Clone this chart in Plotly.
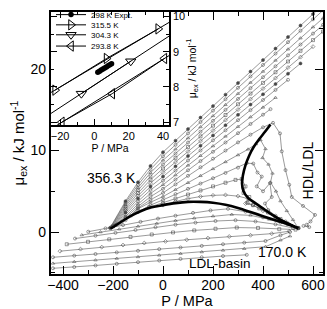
import plotly.graph_objects as go

# ---------------- inset data (P / MPa, mu_ex / kJ mol-1) ----------------
expt298_P = [2, 3, 4, 5, 6, 7, 8, 9, 10]
expt298_mu = [8.42, 8.45, 8.48, 8.51, 8.54, 8.57, 8.60, 8.63, 8.66]

t3155_P = [-22.9, 7.1, 37.2]
t3155_mu = [7.91, 8.81, 9.65]
t3155_fitP = [-40, 60]
t3155_fitmu = [7.42, 10.31]

t3043_P = [-7.6, 21.2]
t3043_mu = [7.81, 8.73]
t3043_fitP = [-40, 60]
t3043_fitmu = [6.78, 9.97]

t2938_P = [-19.0, 10.4, 40.8]
t2938_mu = [7.00, 7.81, 8.81]
t2938_fitP = [-40, 60]
t2938_fitmu = [6.36, 9.39]

# ---------------- main panel: HDL-side isotherms (356.3 K downward) ----------------
hdl0_P = [-212, -150, -100, -50, 0, 50, 100, 150, 200, 250, 300, 350, 400, 450, 500, 550, 600, 640]
hdl0_mu = [0.5, 3.79, 6.11, 8.11, 9.8, 11.21, 12.63, 14.04, 15.45, 16.86, 18.28, 19.69, 21.1, 22.51, 23.93, 25.34, 26.75, 27.88]
hdl1_P = [-210, -150, -100, -50, 0, 50, 100, 150, 200, 250, 300, 350, 400, 450, 500, 550, 600, 640]
hdl1_mu = [0.55, 3.59, 5.79, 7.69, 9.3, 10.7, 12.1, 13.5, 14.9, 16.3, 17.7, 19.1, 20.5, 21.9, 23.3, 24.7, 26.1, 27.2]
hdl2_P = [-207, -150, -100, -50, 0, 50, 100, 150, 200, 250, 300, 350, 400, 450, 500, 550, 600, 640]
hdl2_mu = [0.6, 3.35, 5.45, 7.27, 8.8, 10.16, 11.53, 12.89, 14.25, 15.61, 16.98, 18.34, 19.7, 21.06, 22.43, 23.79, 25.15, 26.24]
hdl3_P = [-204, -150, -100, -50, 0, 50, 100, 150, 200, 250, 300, 350, 400, 450, 500, 550, 600, 640]
hdl3_mu = [0.65, 3.12, 5.13, 6.85, 8.3, 9.64, 10.98, 12.31, 13.65, 14.99, 16.33, 17.66, 19.0, 20.34, 21.68, 23.01, 24.35, 25.42]
hdl4_P = [-200, -150, -100, -50, 0, 50, 100, 150, 200, 250, 300, 350, 400, 450, 500, 550, 600, 640]
hdl4_mu = [0.7, 2.87, 4.78, 6.42, 7.8, 9.11, 10.43, 11.74, 13.05, 14.36, 15.68, 16.99, 18.3, 19.61, 20.93, 22.24, 23.55, 24.6]
hdl5_P = [-196, -150, -100, -50, 0, 50, 100, 150, 200, 250, 300, 350, 400, 450, 500, 550, 600]
hdl5_mu = [0.75, 2.64, 4.45, 6.0, 7.3, 8.59, 9.88, 11.16, 12.45, 13.74, 15.03, 16.31, 17.6, 18.89, 20.18, 21.46, 22.75]
hdl6_P = [-190, -150, -100, -50, 0, 50, 100, 150, 200, 250, 300, 350, 400, 450, 500, 550]
hdl6_mu = [0.85, 2.40, 4.12, 5.58, 6.8, 8.06, 9.33, 10.59, 11.85, 13.11, 14.38, 15.64, 16.9, 18.16, 19.43, 20.69]
hdl7_P = [-183, -150, -100, -50, 0, 50, 100, 150, 200, 250, 300, 350, 400, 450, 500]
hdl7_mu = [0.95, 2.15, 3.77, 5.16, 6.3, 7.54, 8.78, 10.01, 11.25, 12.49, 13.73, 14.96, 16.2, 17.44, 18.68]
hdl8_P = [-175, -150, -100, -50, 0, 50, 100, 150, 200, 250, 300, 350, 400, 450]
hdl8_mu = [1.05, 1.9, 3.43, 4.73, 5.8, 6.99, 8.18, 9.36, 10.55, 11.74, 12.93, 14.11, 15.3, 16.49]
hdl9_P = [-165, -150, -100, -50, 0, 50, 100, 150, 200, 250, 300, 350, 400, 430]
hdl9_mu = [1.25, 1.72, 3.14, 4.33, 5.3, 6.44, 7.58, 8.71, 9.85, 10.99, 12.13, 13.26, 14.4, 15.08]

# isotherms that break up in the HDL/LDL transition region
zig0_P = [-150, -100, -50, 0, 50, 100, 150, 200, 250, 300, 350, 400, 440, 468, 475, 490, 505, 515, 560, 608, 590, 575, 585, 562]
zig0_mu = [1.45, 2.95, 3.95, 4.8, 5.85, 6.9, 7.95, 9.0, 10.0, 11.0, 11.95, 12.85, 13.4, 12.1, 9.9, 7.6, 5.8, 4.3, 3.2, 2.1, 1.3, 0.9, 0.6, 0.75]
zig1_P = [-130, -100, -50, 0, 50, 100, 150, 200, 250, 300, 340, 372, 390, 410, 398, 422, 438, 430, 452, 470, 495, 520, 541]
zig1_mu = [1.95, 2.85, 3.65, 4.35, 5.2, 6.05, 6.9, 7.75, 8.6, 9.45, 10.15, 10.8, 11.3, 10.2, 9.1, 8.3, 7.2, 6.1, 5.0, 3.8, 2.6, 1.5, 0.5]
zig2_P = [-100, -50, 0, 50, 100, 150, 200, 250, 300, 335, 361, 378, 395, 375, 400, 428, 435, 408, 421, 450, 490, 541]
zig2_mu = [2.45, 3.3, 3.95, 4.65, 5.3, 5.95, 6.6, 7.25, 7.9, 8.45, 8.4, 7.3, 6.8, 5.6, 5.0, 6.0, 4.3, 3.5, 2.7, 2.0, 1.3, 0.5]
zig3_P = [-55, 0, 50, 100, 150, 200, 250, 290, 315, 330, 322, 345, 338, 360, 385, 420, 470, 541]
zig3_mu = [3.05, 3.55, 4.1, 4.6, 5.1, 5.6, 6.05, 6.4, 6.5, 5.6, 4.8, 4.3, 3.6, 3.3, 2.9, 2.4, 1.6, 0.5]
zig4_P = [0, 50, 100, 150, 200, 250, 300, 340, 330, 360, 400, 450, 500, 541]
zig4_mu = [3.3, 3.75, 4.1, 4.35, 4.5, 4.55, 4.4, 4.1, 3.5, 3.3, 2.6, 1.8, 1.05, 0.5]

# LDL-basin isotherms (down to 170.0 K)
ldl0_P = [-299, -230, -160, -90, -20, 50, 120, 190, 260, 330, 400, 470, 541]
ldl0_mu = [0.04, 0.45, 0.85, 1.25, 1.65, 2.0, 2.35, 2.65, 2.85, 2.5, 1.8, 1.15, 0.45]
ldl1_P = [-325, -250, -175, -100, -25, 50, 125, 200, 275, 350, 425, 500, 541]
ldl1_mu = [-0.37, 0.0, 0.35, 0.7, 1.05, 1.4, 1.7, 1.95, 2.15, 2.05, 1.55, 0.9, 0.5]
ldl2_P = [-352, -270, -190, -110, -30, 50, 130, 210, 290, 370, 450, 520]
ldl2_mu = [-0.8, -0.45, -0.1, 0.25, 0.6, 0.9, 1.15, 1.35, 1.45, 1.3, 0.95, 0.5]
ldl3_P = [-385, -300, -215, -130, -45, 40, 125, 210, 295, 380, 465, 530]
ldl3_mu = [-1.5, -1.2, -0.9, -0.6, -0.3, -0.05, 0.2, 0.4, 0.55, 0.5, 0.35, 0.3]
ldl4_P = [-412, -330, -245, -160, -75, 10, 95, 180, 265, 350, 435, 505]
ldl4_mu = [-2.35, -2.1, -1.85, -1.6, -1.35, -1.15, -0.95, -0.75, -0.55, -0.4, -0.2, 0.1]
ldl5_P = [-440, -355, -270, -185, -100, -15, 70, 155, 240, 325, 410, 470, 508]
ldl5_mu = [-3.1, -2.9, -2.7, -2.5, -2.3, -2.1, -1.9, -1.7, -1.5, -1.3, -1.1, -0.4, 0.0]
ldl6_P = [-440, -355, -270, -185, -100, -15, 70, 155, 240, 325, 410, 470, 508]
ldl6_mu = [-3.85, -3.65, -3.45, -3.25, -3.05, -2.85, -2.65, -2.45, -2.25, -2.05, -1.8, -1.0, -0.5]
ldl7_P = [-440, -355, -270, -185, -100, -15, 70, 155, 240, 335]
ldl7_mu = [-4.45, -4.3, -4.1, -3.9, -3.7, -3.5, -3.3, -3.1, -2.95, -2.8]

# thick boundary curves
bound1_P = [-210, -170, -130, -90, -50, 0, 50, 100, 150, 200, 250, 300, 350, 400, 450, 500, 541]
bound1_mu = [0.4, 1.2, 1.95, 2.55, 3.0, 3.3, 3.55, 3.7, 3.7, 3.6, 3.35, 2.95, 2.45, 1.95, 1.45, 0.95, 0.45]
bound2_P = [430, 408, 385, 362, 345, 330, 320, 316, 322, 340, 362, 395, 428, 470, 510, 541]
bound2_mu = [13.2, 12.3, 11.4, 10.4, 9.4, 8.2, 7.0, 6.0, 5.0, 4.2, 3.7, 3.0, 2.3, 1.5, 0.9, 0.45]

main_xticks = [-400, -200, 0, 200, 400, 600]
main_yticks = [0, 10, 20]
inset_xticks = [-20, 0, 20, 40]
inset_yticks = [7, 8, 9, 10]

FONT = "Liberation Sans, Arial, Helvetica, sans-serif"
INK = "#454545"

fig = go.Figure()

isotherms = [
    (hdl0_P, hdl0_mu), (hdl1_P, hdl1_mu), (hdl2_P, hdl2_mu), (hdl3_P, hdl3_mu),
    (hdl4_P, hdl4_mu), (hdl5_P, hdl5_mu), (hdl6_P, hdl6_mu), (hdl7_P, hdl7_mu),
    (hdl8_P, hdl8_mu), (hdl9_P, hdl9_mu),
    (zig0_P, zig0_mu), (zig1_P, zig1_mu), (zig2_P, zig2_mu), (zig3_P, zig3_mu), (zig4_P, zig4_mu),
    (ldl0_P, ldl0_mu), (ldl1_P, ldl1_mu), (ldl2_P, ldl2_mu), (ldl3_P, ldl3_mu),
    (ldl4_P, ldl4_mu), (ldl5_P, ldl5_mu), (ldl6_P, ldl6_mu), (ldl7_P, ldl7_mu),
]
symbols = ["circle", "circle-open", "triangle-up-open", "circle-open", "square-open", "diamond-open"]
for i, (P, mu) in enumerate(isotherms):
    sym = symbols[i % len(symbols)] if i < 10 else symbols[1 + i % (len(symbols) - 1)]
    fig.add_trace(go.Scatter(
        x=P, y=mu, mode="lines+markers", xaxis="x", yaxis="y",
        line=dict(color=INK, width=0.55),
        marker=dict(symbol=sym, size=3, color=INK,
                    line=dict(width=0.55, color=INK)),
        showlegend=False, hoverinfo="skip"))

for P, mu in [(bound1_P, bound1_mu), (bound2_P, bound2_mu)]:
    fig.add_trace(go.Scatter(
        x=P, y=mu, mode="lines", xaxis="x", yaxis="y",
        line=dict(color="black", width=2.6, shape="spline", smoothing=1.0),
        showlegend=False, hoverinfo="skip"))

# ---------------- inset traces ----------------
for fp, fm in [(t3155_fitP, t3155_fitmu), (t3043_fitP, t3043_fitmu), (t2938_fitP, t2938_fitmu)]:
    fig.add_trace(go.Scatter(x=fp, y=fm, mode="lines", xaxis="x2", yaxis="y2",
                             line=dict(color="black", width=1), showlegend=False, hoverinfo="skip"))

fig.add_trace(go.Scatter(x=expt298_P, y=expt298_mu, mode="lines+markers", xaxis="x2", yaxis="y2",
                         name="298 K Expt.", legend="legend",
                         line=dict(color="black", width=1),
                         marker=dict(symbol="circle", size=5.5, color="black")))
fig.add_trace(go.Scatter(x=t3155_P, y=t3155_mu, mode="lines+markers", xaxis="x2", yaxis="y2",
                         name="315.5 K", legend="legend2",
                         line=dict(color="black", width=1),
                         marker=dict(symbol="triangle-right-open", size=9, color="black", line=dict(width=1))))
fig.add_trace(go.Scatter(x=t3043_P, y=t3043_mu, mode="lines+markers", xaxis="x2", yaxis="y2",
                         name="304.3 K", legend="legend3",
                         line=dict(color="black", width=1),
                         marker=dict(symbol="triangle-down-open", size=9, color="black", line=dict(width=1))))
fig.add_trace(go.Scatter(x=t2938_P, y=t2938_mu, mode="lines+markers", xaxis="x2", yaxis="y2",
                         name="293.8 K", legend="legend4",
                         line=dict(color="black", width=1),
                         marker=dict(symbol="triangle-left-open", size=9, color="black", line=dict(width=1))))

# ---------------- layout ----------------
ax_common = dict(showgrid=False, zeroline=False, showline=True, linecolor="black",
                 ticks="inside", tickcolor="black", automargin=False)

inset_top = (274 - 125) / 262.0
inset_right = (169 - 51) / 272.0

legend_common = dict(x=0.0, xanchor="left", yanchor="middle", bgcolor="rgba(0,0,0,0)",
                     borderwidth=0, font=dict(size=8, family=FONT, color="black"), itemwidth=30)

fig.update_layout(
    width=327, height=309,
    margin=dict(l=51, r=4, t=12, b=35, autoexpand=False),
    paper_bgcolor="white", plot_bgcolor="white",
    font=dict(family=FONT, color="black"),
    xaxis=dict(**ax_common, domain=[0, 1], range=[-448, 640], tickvals=main_xticks,
               ticklen=8, tickwidth=1.2, linewidth=2.2, mirror="ticks",
               minor=dict(dtick=100, ticklen=4, ticks="inside", tickcolor="black"),
               tickfont=dict(size=14), anchor="y", ticklabelstandoff=-3,
               title=dict(text="P / MPa", font=dict(size=14.5), standoff=3)),
    yaxis=dict(**ax_common, domain=[0, 1], range=[-5.15, 27.0], tickvals=main_yticks,
               ticklen=8, tickwidth=1.2, linewidth=2.2, mirror="ticks",
               minor=dict(dtick=5, ticklen=4, ticks="inside", tickcolor="black"),
               tickfont=dict(size=14), anchor="x",
               title=dict(text="μ<sub>ex</sub> / kJ mol<sup>-1</sup>", font=dict(size=15), standoff=2)),
    xaxis2=dict(**ax_common, domain=[0, inset_right], range=[-25.3, 43.5], tickvals=inset_xticks,
                ticklen=6, linewidth=1.6, mirror="ticks", anchor="y2",
                minor=dict(dtick=10, ticklen=3, ticks="inside", tickcolor="black"),
                tickfont=dict(size=11),
                title=dict(text="P / MPa", font=dict(size=10.5), standoff=1)),
    yaxis2=dict(**ax_common, domain=[inset_top, 1], range=[6.92, 10.13], tickvals=inset_yticks,
                ticklen=6, linewidth=1.6, mirror="ticks", anchor="x2", side="right",
                minor=dict(dtick=0.5, ticklen=3, ticks="inside", tickcolor="black"),
                tickfont=dict(size=11),
                title=dict(text="μ<sub>ex</sub> / kJ mol<sup>-1</sup>", font=dict(size=10.5), standoff=4)),
    legend=dict(**legend_common, y=0.99),
    legend2=dict(**legend_common, y=0.951),
    legend3=dict(**legend_common, y=0.913),
    legend4=dict(**legend_common, y=0.870),
    annotations=[
        dict(x=-205, y=6.6, xref="x", yref="y", text="356.3 K", showarrow=False,
             font=dict(size=14)),
        dict(x=478, y=-2.45, xref="x", yref="y", text="170.0 K", showarrow=False,
             font=dict(size=14)),
        dict(x=228, y=-3.8, xref="x", yref="y", text="LDL-basin", showarrow=False,
             font=dict(size=13.5)),
        dict(x=578, y=7.5, xref="x", yref="y", text="HDL/LDL", showarrow=False,
             textangle=-90, font=dict(size=14)),
    ],
)

fig.write_html("out.html", config={"displayModeBar": False},
               post_script="document.body.style.margin='0px';document.body.style.overflow='hidden';")
